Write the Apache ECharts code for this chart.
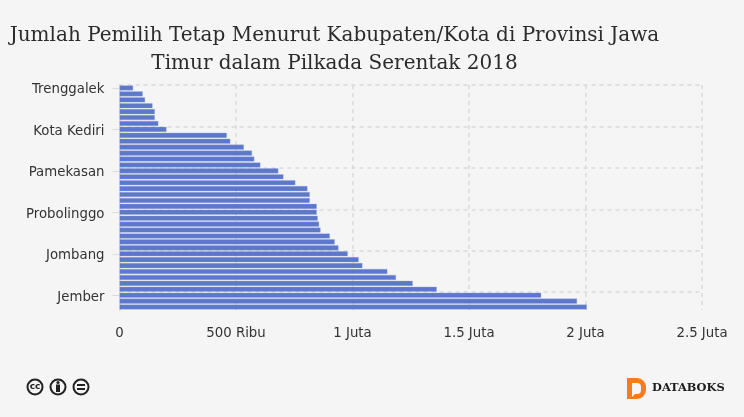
<!DOCTYPE html>
<html>
<head>
<meta charset="utf-8">
<style>html,body{margin:0;padding:0;background:#f5f5f5}#c{width:744px;height:417px}</style>
<script src="https://cdn.jsdelivr.net/npm/echarts@6/dist/echarts.min.js"></script>
</head>
<body>
<div id="c"></div>
<script>
const titleText = 'Jumlah Pemilih Tetap Menurut Kabupaten/Kota di Provinsi Jawa\nTimur dalam Pilkada Serentak 2018';
// Only every seventh regency name is printed in the reference; the rest are unreadable.
const categories = [
  'Trenggalek','','','','','','',
  'Kota Kediri','','','','','','',
  'Pamekasan','','','','','','',
  'Probolinggo','','','','','','',
  'Jombang','','','','','','',
  'Jember','',''
];
const voters = [
  58700,100000,110000,142000,152000,152000,167000,202000,
  461000,476000,534000,569000,579000,605000,682000,704000,
  755000,807000,817000,817000,847000,847000,851000,857000,
  863000,903000,924000,940000,980000,1027000,1043000,1150000,
  1187000,1259000,1362000,1810000,1964000,2006000
];
const xTickLabels = {0:'0',500000:'500 Ribu',1000000:'1 Juta',1500000:'1.5 Juta',2000000:'2 Juta',2500000:'2.5 Juta'};

const chart = echarts.init(document.getElementById('c'), null, {renderer:'canvas'});
const textColor = '#333';
const uiFont = '"DejaVu Sans", Verdana, sans-serif';
chart.setOption({
  animation:false,
  backgroundColor:'#f5f5f5',
  title:{
    text:titleText, left:329.5, top:17, textAlign:'center',
    textStyle:{fontFamily:'"DejaVu Serif", serif',fontWeight:'normal',fontSize:20,lineHeight:28,color:'#2b2b2b',align:'center'}
  },
  grid:{left:119.5,top:85,width:582.5,height:225,containLabel:false},
  xAxis:{
    type:'value',min:0,max:2500000,interval:500000,
    axisLine:{show:false},axisTick:{show:false},
    axisLabel:{margin:17,fontFamily:uiFont,fontSize:13.3,color:textColor,formatter:v=>xTickLabels[v]},
    splitLine:{show:true,lineStyle:{color:'#d9d9d9',width:1.5,type:[4,4]}}
  },
  yAxis:{
    type:'category',inverse:true,data:categories,
    axisLine:{show:true,lineStyle:{color:'#dcdcdc',width:2}},
    axisTick:{show:true,interval:6,alignWithLabel:true,length:7,lineStyle:{color:'#dcdcdc',width:1}},
    axisLabel:{
      interval:6,margin:15,
      formatter:v=>v?`{a|${v}}`:'',
      rich:{a:{padding:[4,0,0,0],fontFamily:uiFont,fontSize:13.3,color:textColor}}
    },
    splitLine:{show:true,showMaxLine:false,interval:6,lineStyle:{color:'#d9d9d9',width:1.5,type:[4,4]}}
  },
  series:[{
    type:'bar',data:voters,barWidth:5.2,
    itemStyle:{color:'rgba(66,97,194,0.85)',borderColor:'rgba(150,170,230,0.55)',borderWidth:0.6}
  }],
  graphic:[
    {type:'circle',shape:{cx:35,cy:387,r:7.5},style:{fill:'#f5f5f5',stroke:'#222',lineWidth:2}},
    {type:'text',style:{x:35,y:387,text:'cc',fill:'#222',font:'bold 9px "DejaVu Sans"',align:'center',verticalAlign:'middle'}},
    {type:'circle',shape:{cx:58,cy:387,r:7.5},style:{fill:'#f5f5f5',stroke:'#222',lineWidth:2}},
    {type:'circle',shape:{cx:58,cy:382.5,r:1.6},style:{fill:'#222'}},
    {type:'rect',shape:{x:56,y:384.5,width:4,height:7.5},style:{fill:'#222'}},
    {type:'circle',shape:{cx:81,cy:387,r:7.5},style:{fill:'#f5f5f5',stroke:'#222',lineWidth:2}},
    {type:'rect',shape:{x:77,y:384,width:8,height:2},style:{fill:'#222'}},
    {type:'rect',shape:{x:77,y:388,width:8,height:2},style:{fill:'#222'}},
    {type:'rect',shape:{x:627,y:378,width:19,height:21,r:[0,9,9,0]},style:{fill:'#f47b20'}},
    {type:'rect',shape:{x:632,y:383,width:9,height:11,r:[0,4,4,0]},style:{fill:'#f5f5f5'}},
    {type:'polygon',shape:{points:[[632,393],[632,397],[636,393]]},style:{fill:'#f5f5f5'}},
    {type:'text',style:{x:652,y:388.5,text:'DATABOKS',fill:'#1d1d1d',font:'bold 11.4px "DejaVu Serif"',align:'left',verticalAlign:'middle'}}
  ]
});
</script>
</body>
</html>
